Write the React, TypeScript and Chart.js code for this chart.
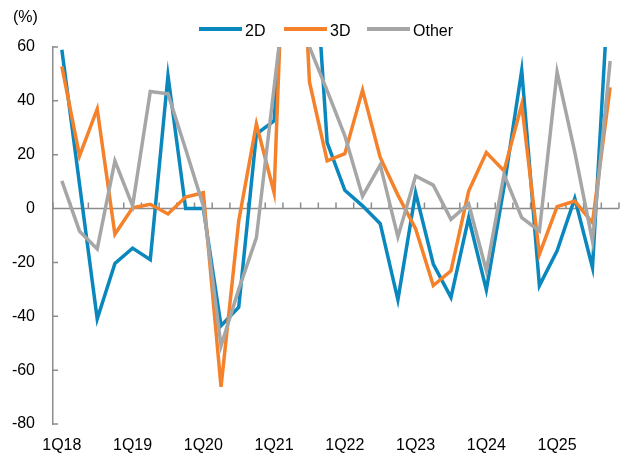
import React, { useEffect, useRef } from "react";
import { Chart, registerables } from "chart.js";

Chart.register(...registerables);

const quarters = [
  "1Q18", "2Q18", "3Q18", "4Q18",
  "1Q19", "2Q19", "3Q19", "4Q19",
  "1Q20", "2Q20", "3Q20", "4Q20",
  "1Q21", "2Q21", "3Q21", "4Q21",
  "1Q22", "2Q22", "3Q22", "4Q22",
  "1Q23", "2Q23", "3Q23", "4Q23",
  "1Q24", "2Q24", "3Q24", "4Q24",
  "1Q25", "2Q25", "3Q25", "4Q25",
];

const shownLabels = ["1Q18", "1Q19", "1Q20", "1Q21", "1Q22", "1Q23", "1Q24", "1Q25"];

const series2D = [
  59, 9, -41, -20.4, -14.7, -19, 49.4, 0,
  0, -43.5, -36.6, 27.7, 32.6, 130, 125, 24.5,
  6.8, 1, -5.6, -33.9, 5.9, -20.6, -33, -3.4,
  -30.2, 8, 51.3, -28.6, -15.7, 3.8, -21.9, 92,
];

const series3D = [
  52.8, 19.6, 37, -9.5, 0.3, 1.6, -2, 4.3,
  5.9, -66.2, -4.6, 31.4, 5.9, 180, 47, 17.7,
  20.4, 44, 19, 5, -7.5, -28.6, -23.1, 6.5,
  20.8, 14, 38.6, -17, 0.7, 2.8, -5.3, 45,
];

const seriesOther = [
  10.3, -8.4, -15, 17.7, 1, 43.5, 42.6, 22,
  1, -51, -30, -10.8, 45, 100, 60, 43.8,
  27, 4.6, 16.2, -10.5, 12.1, 8.7, -4, 1.8,
  -23.1, 12.7, -3.4, -8.3, 50.7, 21, -12.1, 54.8,
];

const yTickValues = [-80, -60, -40, -20, 0, 20, 40, 60];

const seriesNames = ["2D", "3D", "Other"];
const COLORS = ["#0A88BE", "#F5822A", "#A6A6A6"];
const AXIS = "#8C8C8C";
const FONT = "'Liberation Sans', Arial, sans-serif";

const overlayPlugin = {
  id: "overlay",
  beforeDatasetsDraw(chart: any) {
    const { ctx, chartArea, scales } = chart;
    const xs = scales.x;
    const ys = scales.y;
    const y0 = ys.getPixelForValue(0);
    ctx.save();
    ctx.strokeStyle = AXIS;
    ctx.lineWidth = 1.5;
    ctx.beginPath();
    ctx.moveTo(chartArea.left, y0);
    ctx.lineTo(chartArea.right, y0);
    const n = quarters.length;
    const step = (chartArea.right - chartArea.left) / n;
    for (let i = 0; i <= n; i++) {
      const bx = chartArea.left + i * step;
      ctx.moveTo(bx, y0);
      ctx.lineTo(bx, y0 - 6);
    }
    for (const v of yTickValues) {
      const py = ys.getPixelForValue(v);
      ctx.moveTo(chartArea.left, py);
      ctx.lineTo(chartArea.left + 5, py);
    }
    ctx.stroke();
    ctx.restore();
  },
  afterDraw(chart: any) {
    const { ctx } = chart;
    ctx.save();
    ctx.font = `16px ${FONT}`;
    ctx.fillStyle = "#000";
    ctx.textBaseline = "alphabetic";
    ctx.textAlign = "left";
    ctx.fillText("(%)", 13, 22);
    const starts = [199, 284, 367];
    ctx.lineWidth = 4;
    seriesNames.forEach((name, i) => {
      const sx = starts[i];
      ctx.strokeStyle = COLORS[i];
      ctx.beginPath();
      ctx.moveTo(sx, 29);
      ctx.lineTo(sx + 43, 29);
      ctx.stroke();
      ctx.fillText(name, sx + 46, 36);
    });
    ctx.restore();
  },
};

export default function App() {
  const canvasRef = useRef<HTMLCanvasElement | null>(null);

  useEffect(() => {
    if (!canvasRef.current) return;
    const data = [series2D, series3D, seriesOther];
    const chart = new Chart(canvasRef.current, {
      type: "line",
      data: {
        labels: quarters,
        datasets: seriesNames.map((name, i) => ({
          label: name,
          data: data[i],
          borderColor: COLORS[i],
          backgroundColor: COLORS[i],
          borderWidth: 3.5,
          pointRadius: 0,
          tension: 0,
          fill: false,
          order: 3 - i,
        })),
      },
      options: {
        responsive: false,
        animation: false,
        layout: { padding: { top: 47, right: 6, left: 0, bottom: 0 } },
        plugins: {
          legend: { display: false },
          tooltip: { enabled: false },
          title: { display: false },
        },
        scales: {
          x: {
            type: "category",
            offset: true,
            grid: { display: false, drawTicks: false },
            border: { display: false },
            ticks: {
              autoSkip: false,
              maxRotation: 0,
              minRotation: 0,
              padding: 12,
              color: "#000",
              font: { family: FONT, size: 16 },
              callback: (_v: any, i: number) =>
                shownLabels.includes(quarters[i]) ? quarters[i] : "",
            },
            afterFit: (s: any) => {
              s.height = 35;
            },
          },
          y: {
            min: -80,
            max: 60,
            grid: { display: false, drawTicks: false },
            border: { display: true, color: AXIS, width: 1.5 },
            ticks: {
              stepSize: 20,
              padding: 18,
              color: "#000",
              font: { family: FONT, size: 16 },
            },
            afterFit: (s: any) => {
              s.width = 53;
            },
          },
        },
      },
      plugins: [overlayPlugin],
    });
    return () => chart.destroy();
  }, []);

  return (
    <canvas
      ref={canvasRef}
      width={625}
      height={459}
      style={{ position: "absolute", left: 0, top: 0, display: "block" }}
    />
  );
}
